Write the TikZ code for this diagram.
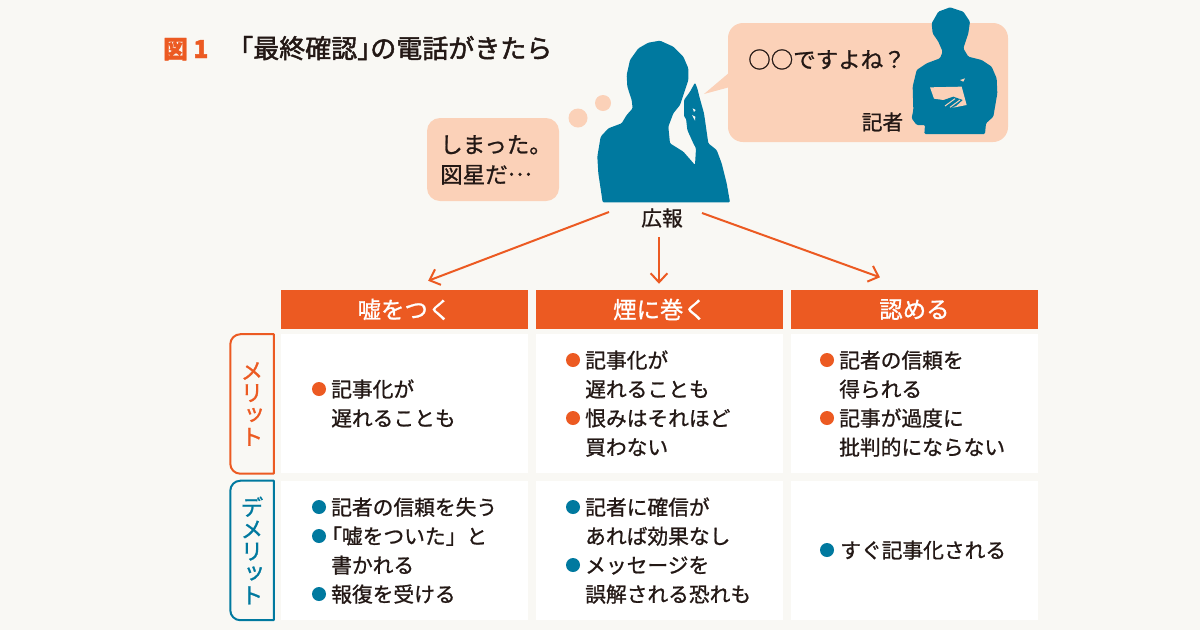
\documentclass[tikz,border=0pt]{standalone}
\usepackage{fontspec}
\setmainfont[FakeBold=1]{Noto Sans CJK JP}
\newfontfamily\tatefont[Vertical=Alternates,FakeBold=1]{Noto Sans CJK JP}
\newfontfamily\titlefont[FakeBold=1.8]{Noto Sans CJK JP}
\usepackage{xcolor}
\usetikzlibrary{positioning,arrows.meta}
\definecolor{paper}{HTML}{F9F8F4}
\definecolor{rust}{HTML}{EC5A22}
\definecolor{teal}{HTML}{00799F}
\definecolor{peach}{HTML}{FBD1B8}
\definecolor{ink}{HTML}{231815}

\begin{document}
\begin{tikzpicture}[
    x=0.03cm, y=-0.03cm,
    head/.style={rectangle, fill=rust, text=white, minimum width=7.41cm, minimum height=1.17cm, inner sep=0pt, font=\fontsize{20pt}{22pt}\selectfont},
    cell/.style={rectangle, fill=white, minimum width=7.41cm, minimum height=4.17cm, inner sep=0pt},
    side/.style={rectangle, minimum width=1.29cm, minimum height=4.17cm, inner sep=0pt, align=center, font=\tatefont\fontsize{19.5pt}{18.8pt}\selectfont},
    sideline/.style={line width=0.06cm, line join=round},
    txt/.style={anchor=base west, inner sep=0pt, text=ink, font=\fontsize{17.7pt}{20pt}\selectfont},
    plain/.style={inner sep=0pt, text=ink, font=\fontsize{17.7pt}{20pt}\selectfont},
    talk/.style={anchor=base west, inner sep=0pt, text=ink, font=\fontsize{19.2pt}{22pt}\selectfont},
    dotm/.style={circle, fill=rust, minimum size=0.42cm, inner sep=0pt},
    dotd/.style={circle, fill=teal, minimum size=0.42cm, inner sep=0pt},
    arrow/.style={-{Straight Barb[length=0.27cm,width=0.5cm]}, line width=0.06cm, rust}
]
% Background
\fill[paper] (0,0) rectangle (1200,630);
\useasboundingbox (0,0) rectangle (1200,630);

% Title
\node[anchor=base west, inner sep=0pt, text=rust, font=\titlefont\fontsize{21pt}{24pt}\selectfont] (fig_no) at (163,58) {\bfseries 図 1};
\node[anchor=base west, inner sep=0pt, text=ink, font=\titlefont\fontsize{22.2pt}{24pt}\selectfont] (fig_title) at (227,58) {「最終確認」\hspace{-0.5em}の電話がきたら};

% Balloons
\fill[peach, rounded corners=0.39cm] (427,118) rectangle (559,201);
\fill[peach] (578,118) circle (9.5);
\fill[peach] (603,103) circle (8);
\fill[peach, rounded corners=0.45cm] (728,23) rectangle (1008,142);
\fill[peach] (730,72) -- (704,94) -- (730,87) -- cycle;

% Press officer
\begin{scope}[shift={(580,0)}, scale=1/3]
\fill[teal, rounded corners=1pt] (68,607) -- (55,520) -- (52,470) -- (62,410) -- (85,385) -- (125,370) -- (140,345) -- (158,325) -- (155,300) -- (142,260) -- (140,225) -- (150,180) -- (175,145) -- (205,128) -- (240,122) -- (280,140) -- (310,170) -- (325,205) -- (325,240) -- (310,285) -- (300,315) -- (280,340) -- (265,380) -- (270,430) -- (310,455) -- (345,495) -- (348,445) -- (340,430) -- (322,390) -- (318,355) -- (312,350) -- (312,300) -- (330,275) -- (345,248) -- (352,265) -- (358,290) -- (372,340) -- (385,430) -- (410,450) -- (425,490) -- (440,550) -- (450,607) -- cycle;
\fill[paper] (338,325) -- (347,330) -- (342,336) -- cycle;
\fill[paper] (336,345) -- (346,350) -- (345,362) -- cycle;
\end{scope}

% Reporter
\begin{scope}[shift={(580,0)}, scale=1/3]
\fill[teal, rounded corners=1pt] (1033,402) -- (1215,402) -- (1218,370) -- (1240,350) -- (1252,280) -- (1250,235) -- (1235,200) -- (1205,180) -- (1165,170) -- (1150,145) -- (1165,100) -- (1170,65) -- (1150,35) -- (1110,22) -- (1075,35) -- (1055,70) -- (1058,100) -- (1075,125) -- (1088,155) -- (1080,175) -- (1040,190) -- (1010,210) -- (998,260) -- (1000,330) -- (995,355) -- (1010,375) -- (1035,375) -- cycle;
\fill[peach] (1050,262) -- (1145,260) -- (1160,315) -- (1125,322) -- (1105,322) -- (1090,300) -- (1062,296) -- cycle;
\fill[teal] (1085,302) -- (1120,290) -- (1148,300) -- (1128,318) -- (1105,327) -- cycle;
\draw[peach, line width=0.03cm] (1095,318) -- (1125,296);
\draw[peach, line width=0.03cm] (1110,322) -- (1140,300);
\fill[peach] (1140,240) -- (1155,235) -- (1150,245) -- cycle;
\end{scope}

% Speech
\node[talk] (think_a) at (440,153) {しまった。};
\node[talk] (think_b) at (440,183) {図星だ\raisebox{0.33em}{…}};
\node[talk] (question) at (748,68) {○○ですよね？};
\node[plain] (reporter) at (882.5,122) {記者};
\node[plain] (koho) at (662,218) {広報};

% Table
\node[head] (lie) at (404.5,309.5) {嘘をつく};
\node[head, right=0.24cm of lie] (dodge) {煙に巻く};
\node[head, right=0.21cm of dodge] (admit) {認める};
\node[cell, below=0.15cm of lie] (lie_m) {};
\node[cell, below=0.15cm of dodge] (dodge_m) {};
\node[cell, below=0.15cm of admit] (admit_m) {};
\node[cell, below=0.21cm of lie_m] (lie_d) {};
\node[cell, below=0.21cm of dodge_m] (dodge_d) {};
\node[cell, below=0.21cm of admit_m] (admit_d) {};

% Row labels
\node[side, text=rust, left=0.21cm of lie_m] (merit) {メ\\リ\\ッ\\ト};
\node[side, text=teal, left=0.21cm of lie_d] (demerit) {デ\\メ\\リ\\ッ\\ト};
\draw[sideline, rust] (merit.north east) [rounded corners=0.3cm] -- (merit.north west) -- (merit.south west) [sharp corners] -- (merit.south east) -- cycle;
\draw[sideline, teal] (demerit.north east) [rounded corners=0.3cm] -- (demerit.north west) -- (demerit.south west) [sharp corners] -- (demerit.south east) -- cycle;

% Arrows
\coordinate (koho_l) at (609,212);
\coordinate (koho_r) at (702,213);
\coordinate (koho_m) at (659,237);
\draw[arrow, shorten >=0.76cm] (koho_l) -- (lie.north);
\draw[arrow, shorten >=0.18cm] (koho_m) -- (koho_m |- dodge.north);
\draw[arrow, shorten >=1.1cm] (koho_r) -- (admit.north);

% Merit texts
\node[txt] (lm1) at (331,397) {記事化が};
\node[txt] (lm2) at (331,426) {遅れることも};
\node[dotm] (lm1d) at (319,389) {};

\node[txt] (dm1) at (585,368) {記事化が};
\node[txt] (dm2) at (585,397) {遅れることも};
\node[txt] (dm3) at (585,426) {恨みはそれほど};
\node[txt] (dm4) at (585,455) {買わない};
\node[dotm] (dm1d) at (573,360) {};
\node[dotm] (dm3d) at (573,418) {};

\node[txt] (am1) at (839,368) {記者の信頼を};
\node[txt] (am2) at (839,397) {得られる};
\node[txt] (am3) at (839,426) {記事が過度に};
\node[txt] (am4) at (839,455) {批判的にならない};
\node[dotm] (am1d) at (827,360) {};
\node[dotm] (am3d) at (827,418) {};

% Demerit texts
\node[txt] (ld1) at (331,515) {記者の信頼を失う};
\node[txt] (ld2) at (321,544) {「嘘をついた」と};
\node[txt] (ld3) at (331,573) {書かれる};
\node[txt] (ld4) at (331,602) {報復を受ける};
\node[dotd] (ld1d) at (319,507) {};
\node[dotd] (ld2d) at (319,536) {};
\node[dotd] (ld4d) at (319,594) {};

\node[txt] (dd1) at (585,515) {記者に確信が};
\node[txt] (dd2) at (585,544) {あれば効果なし};
\node[txt] (dd3) at (585,573) {メッセージを};
\node[txt] (dd4) at (585,602) {誤解される恐れも};
\node[dotd] (dd1d) at (573,507) {};
\node[dotd] (dd3d) at (573,565) {};

\node[txt] (ad1) at (840,558) {すぐ記事化される};
\node[dotd] (ad1d) at (827,550) {};
\end{tikzpicture}
\end{document}
